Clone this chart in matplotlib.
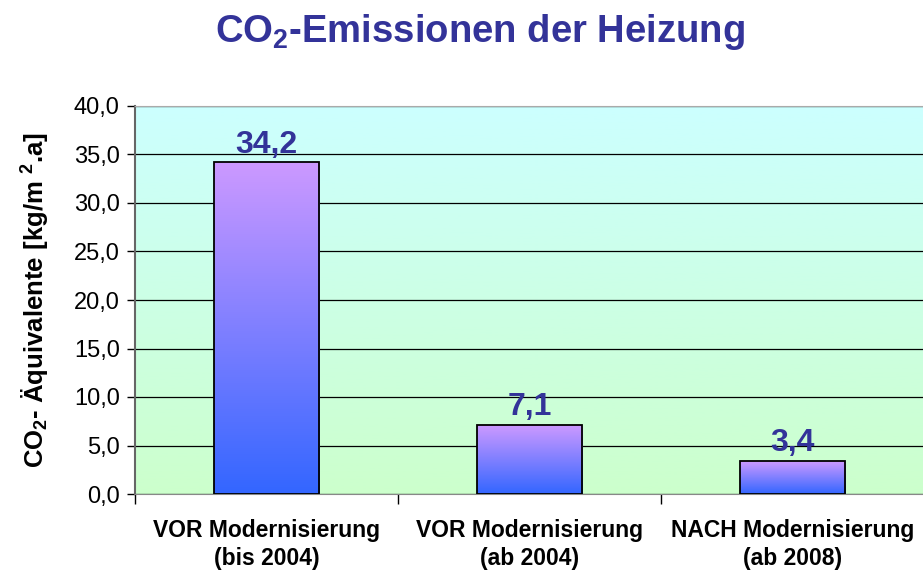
import numpy as np
import matplotlib
matplotlib.use("Agg")
import matplotlib.pyplot as plt
from matplotlib.colors import LinearSegmentedColormap
from matplotlib.ticker import FuncFormatter, MultipleLocator

plt.rcParams['font.family'] = ['Liberation Sans', 'DejaVu Sans']
plt.rcParams['mathtext.fontset'] = 'custom'
plt.rcParams['mathtext.rm'] = 'Liberation Sans:bold'
plt.rcParams['mathtext.bf'] = 'Liberation Sans:bold'
plt.rcParams['mathtext.it'] = 'Liberation Sans:bold'

categories = ["VOR Modernisierung\n(bis 2004)",
              "VOR Modernisierung\n(ab 2004)",
              "NACH Modernisierung\n(ab 2008)"]
values = [34.2, 7.1, 3.4]

title_color = "#333399"

fig = plt.figure(figsize=(9.23, 5.74), dpi=100)
ax = fig.add_axes([135 / 923, 1 - 494 / 574, 789 / 923, 388 / 574])

x = np.arange(len(categories))
ax.set_xlim(-0.5, len(categories) - 0.5)
ax.set_ylim(0, 40)

# background gradient cyan -> light green
bg = LinearSegmentedColormap.from_list("bg", ["#ccffcc", "#ccffff"])
grad = np.linspace(0, 1, 256).reshape(-1, 1)
ax.imshow(grad, cmap=bg, origin="lower", aspect="auto",
          extent=(-0.5, len(categories) - 0.5, 0, 40), zorder=0)

ax.yaxis.set_major_locator(MultipleLocator(5))
ax.grid(axis="y", color="black", linewidth=0.9, zorder=1)

bars = ax.bar(x, values, width=0.4, facecolor="none", edgecolor="black",
              linewidth=1.3, zorder=3)
barcmap = LinearSegmentedColormap.from_list("bar", ["#3366ff", "#cc99ff"])
for b in bars:
    x0, y0 = b.get_x(), b.get_y()
    w, h = b.get_width(), b.get_height()
    im = ax.imshow(grad, cmap=barcmap, origin="lower", aspect="auto",
                   extent=(x0, x0 + w, y0, y0 + h), zorder=2)
    im.set_clip_path(b)

for xi, v in zip(x, values):
    ax.annotate(f"{v:.1f}".replace(".", ","), (xi, v), xytext=(0, 7),
                textcoords="offset points", ha="center", va="baseline",
                fontsize=23, fontweight="bold", color=title_color, zorder=4)

ax.yaxis.set_major_formatter(FuncFormatter(lambda v, p: f"{v:.1f}".replace(".", ",")))
ax.tick_params(axis="y", labelsize=17, length=6, width=1, pad=5)

ax.set_xticks(x)
ax.set_xticklabels(categories, fontsize=16.5, fontweight="bold", linespacing=1.3)
ax.tick_params(axis="x", length=0, pad=18)
ax.set_xticks(np.arange(len(categories) + 1) - 0.5, minor=True)
ax.tick_params(axis="x", which="minor", length=7, width=1)

for s in ["top", "right"]:
    ax.spines[s].set_color("#aaaaaa")
ax.spines["left"].set_color("#666666")
ax.spines["left"].set_linewidth(1.5)
ax.spines["bottom"].set_color("#888888")

ax.set_ylabel(r"CO$_2$- Äquivalente [kg/m $^2$.a]", fontsize=18.5,
              fontweight="bold", labelpad=16)

fig.text(480 / 923, 1 - 32 / 574, r"CO$_2$-Emissionen der Heizung",
         ha="center", va="center", fontsize=27.5, fontweight="bold",
         color=title_color)

fig.savefig("out.png", dpi=100)
